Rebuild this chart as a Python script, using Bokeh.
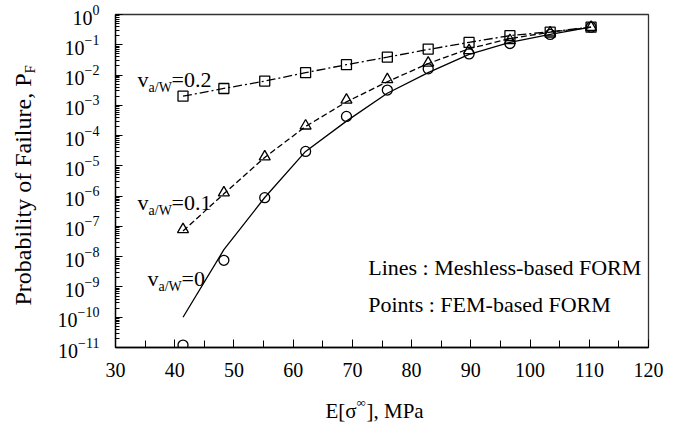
import math
from bokeh.plotting import figure
from bokeh.models import FixedTicker, Label
from bokeh.embed import file_html
from bokeh.resources import INLINE

# ---------------- data ----------------
x_mpa = [41.4, 48.3, 55.2, 62.1, 69.0, 75.9, 82.8, 89.7, 96.6, 103.4, 110.3]

# Lines : Meshless-based FORM
mesh_v0 = [1.0e-10, 1.7e-8, 9.0e-7, 3.0e-5, 3.0e-4, 2.5e-3, 1.2e-2, 4.8e-2, 1.2e-1, 2.2e-1, 3.8e-1]
mesh_v01 = [7.0e-8, 1.2e-6, 1.9e-5, 2.0e-4, 1.3e-3, 6.0e-3, 2.4e-2, 7.4e-2, 1.6e-1, 2.6e-1, 3.8e-1]
mesh_v02 = [2.0e-3, 3.6e-3, 6.3e-3, 1.2e-2, 2.2e-2, 3.9e-2, 7.0e-2, 1.2e-1, 2.0e-1, 2.7e-1, 3.8e-1]

# Points : FEM-based FORM
fem_v0 = [1.2e-11, 7.6e-9, 8.9e-7, 3.0e-5, 4.3e-4, 3.2e-3, 1.6e-2, 5.0e-2, 1.1e-1, 2.2e-1, 3.8e-1]
fem_v01 = [7.9e-8, 1.3e-6, 2.0e-5, 2.1e-4, 1.5e-3, 7.1e-3, 2.5e-2, 6.5e-2, 1.4e-1, 2.5e-1, 3.8e-1]
fem_v02 = [2.0e-3, 3.6e-3, 6.3e-3, 1.2e-2, 2.2e-2, 3.9e-2, 7.2e-2, 1.2e-1, 2.0e-1, 2.6e-1, 3.8e-1]

x_ticks = [30, 40, 50, 60, 70, 80, 90, 100, 110, 120]
x_minor = [35, 45, 55, 65, 75, 85, 95, 105, 115]
y_exponents = list(range(-11, 1))

FONT = "Liberation Serif"

p = figure(width=679, height=422, output_backend="svg", toolbar_location=None,
           x_range=(30, 120), y_range=(1e-11, 1), y_axis_type="log",
           min_border_left=115, min_border_right=31, min_border_top=14, min_border_bottom=75)

p.xgrid.visible = False
p.ygrid.visible = False
p.outline_line_color = "#333333"
p.outline_line_width = 1.3
p.background_fill_color = "white"
p.border_fill_color = "white"

# axes
p.xaxis.ticker = FixedTicker(ticks=x_ticks, minor_ticks=x_minor)
y_major = [10.0 ** e for e in y_exponents]
y_minor = [k * 10.0 ** e for e in y_exponents[:-1] for k in range(2, 10)]
p.yaxis.ticker = FixedTicker(ticks=y_major, minor_ticks=y_minor)

for ax in (p.xaxis[0], p.yaxis[0]):
    ax.axis_line_color = "black"
    ax.axis_line_width = 1.3
    ax.major_tick_line_color = "black"
    ax.minor_tick_line_color = "black"
    ax.major_tick_out = 0
    ax.minor_tick_out = 0
    ax.major_label_text_font = FONT
    ax.major_label_text_font_size = "20px"
    ax.major_label_text_color = "black"
p.xaxis.major_tick_in = 8
p.xaxis.minor_tick_in = 7
p.yaxis.major_tick_in = 7
p.yaxis.minor_tick_in = 4
p.xaxis.major_label_standoff = 15
p.yaxis.major_label_standoff = 16

# lines
p.line(x_mpa, mesh_v0, line_color="black", line_width=1.3)
p.line(x_mpa, mesh_v01, line_color="black", line_width=1.3, line_dash="6 3")
p.line(x_mpa, mesh_v02, line_color="black", line_width=1.3, line_dash="9 3 2 3")

# points
p.scatter(x_mpa, fem_v0, marker="circle", size=10, fill_color=None, line_color="black", line_width=1.3)
p.scatter(x_mpa, fem_v01, marker="triangle", size=11, fill_color=None, line_color="black", line_width=1.3)
p.scatter(x_mpa, fem_v02, marker="square", size=10, fill_color=None, line_color="black", line_width=1.3)


def lab(x, y, text, size, xo=0, yo=0, align="left", angle=0.0, place="center"):
    lbl = Label(x=x, y=y, text=text, x_offset=xo, y_offset=yo, angle=angle,
                text_font=FONT, text_font_size=size, text_color="black",
                text_align=align, text_baseline="alphabetic")
    p.add_layout(lbl, place)


def vlabel(x, y, val):
    lab(x, y, "v", "22px")
    lab(x, y, "a/W", "14px", xo=11, yo=-8)
    lab(x, y, "=" + val, "22px", xo=34)


vlabel(33.72, 7.1e-3, "0.2")
vlabel(33.72, 6.4e-7, "0.1")
vlabel(35.40, 1.86e-9, "0")

lab(72.67, 4.5e-9, "Lines : Meshless-based FORM", "22px")
lab(72.67, 2.63e-10, "Points : FEM-based FORM", "22px")

# axis titles: placed in side panels so that they are not clipped by the frame
lab(65.46, 7.1e-14, "E[σ", "21px", yo=2, place="right")
lab(65.46, 7.1e-14, "∞", "13px", xo=31, yo=10, place="left")
lab(65.46, 7.1e-14, "], MPa", "21px", xo=41, yo=2, place="below")

lab(15.82, 0.01124, "Probability of Failure, P", "24px", xo=-9, align="right", angle=math.pi / 2, place="left")
lab(15.82, 0.01124, "F", "15px", xo=-2, angle=math.pi / 2, place="left")

open("out.html", "w").write(file_html(p, INLINE))
